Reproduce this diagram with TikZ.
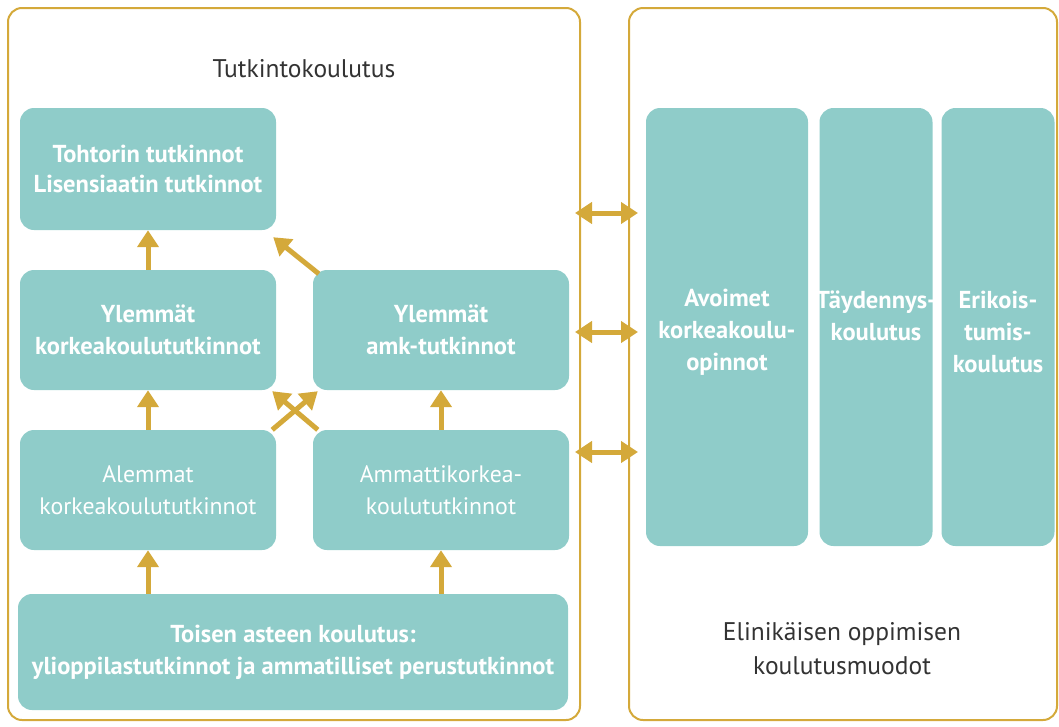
\documentclass[tikz,border=0pt]{standalone}
\usepackage{fontspec}
\setmainfont{PT Sans}
\usetikzlibrary{arrows.meta}
\definecolor{gold}{HTML}{D4A93A}
\definecolor{teal}{HTML}{8FCCC9}
\definecolor{txt}{HTML}{333333}
\tikzset{
  frame/.style={draw=gold, line width=2pt, rounded corners=14pt},
  tbox/.style={fill=teal, rounded corners=14pt, inner sep=0pt, align=center, text=white, font=\fontsize{23.8}{32}\selectfont},
  bbox/.style={tbox, font=\fontsize{24.5}{32}\selectfont\bfseries},
  btext/.style={inner sep=0pt, align=center, text=white, font=\fontsize{24.5}{32}\selectfont\bfseries},
  up/.style={draw=gold, line width=5pt, -{Triangle[width=21pt,length=17pt]}},
  both/.style={draw=gold, line width=5pt, {Triangle[width=21pt,length=17pt]}-{Triangle[width=21pt,length=17pt]}},
  lbl/.style={text=txt, font=\fontsize{25.5}{34}\selectfont, align=center}
}
\begin{document}
\begin{tikzpicture}[x=1pt,y=-1pt]
\useasboundingbox (0,0) rectangle (1059,726);
% frames
\node[frame, minimum width=572pt, minimum height=712pt, inner sep=0pt] (left) at (294,364) {};
\node[frame, minimum width=428pt, minimum height=712pt, inner sep=0pt] (right) at (843,364) {};
\node[lbl] (tk) at (304,69) {Tutkintokoulutus};
\node[lbl] (el) at (842,649) {Elinikäisen oppimisen\\koulutusmuodot};
% left boxes
\node[bbox, minimum width=256pt, minimum height=122pt, font=\fontsize{24.5}{30}\selectfont\bfseries] (toht) at (148,169) {Tohtorin tutkinnot\\Lisensiaatin tutkinnot};
\node[bbox, minimum width=256pt, minimum height=120pt] (ylk) at (148,330) {Ylemmät\\korkeakoulututkinnot};
\node[bbox, minimum width=256pt, minimum height=120pt] (yla) at (441,330) {Ylemmät\\amk-tutkinnot};
\node[tbox, minimum width=256pt, minimum height=120pt] (alk) at (148,490) {Alemmat\\korkeakoulututkinnot};
\node[tbox, minimum width=256pt, minimum height=120pt] (amk) at (441,490) {Ammattikorkea-\\koulututkinnot};
\node[bbox, minimum width=550pt, minimum height=116pt] (toi) at (293,652) {Toisen asteen koulutus:\\ylioppilastutkinnot ja ammatilliset perustutkinnot};
% right boxes
\node[bbox, minimum width=162pt, minimum height=438pt] (avo) at (727,327) {};
\node[bbox, minimum width=113pt, minimum height=438pt] (tay) at (876,327) {};
\node[bbox, minimum width=113pt, minimum height=438pt] (eri) at (998,327) {};
\node[btext] (avot) at (727,332) {Avoimet\\korkeakoulu-\\opinnot};
\node[btext] (tayt) at (876,316) {Täydennys-\\koulutus};
\node[btext] (erit) at (998,332) {Erikois-\\tumis-\\koulutus};
% arrows
\draw[up] (ylk.north) -- (toht.south);
\draw[up] (alk.north) -- (ylk.south);
\draw[up] (toi.north -| alk.south) -- (alk.south);
\draw[up] (toi.north -| amk.south) -- (amk.south);
\draw[up] (amk.north) -- (yla.south);
\draw[up] ([xshift=6pt,yshift=-4pt]yla.north west) -- ([xshift=-3pt,yshift=-7pt]toht.south east);
\draw[up] ([xshift=-4pt]alk.north east) -- ([xshift=5pt,yshift=-1pt]yla.south west);
\draw[up] ([xshift=5pt]amk.north west) -- ([xshift=-4pt,yshift=-1pt]ylk.south east);
\coordinate (a1) at (575,213); \coordinate (b1) at (638,213);
\coordinate (a2) at (575,332); \coordinate (b2) at (638,332);
\coordinate (a3) at (575,452); \coordinate (b3) at (638,452);
\draw[both] (a1) -- (b1);
\draw[both] (a2) -- (b2);
\draw[both] (a3) -- (b3);
\end{tikzpicture}
\end{document}
